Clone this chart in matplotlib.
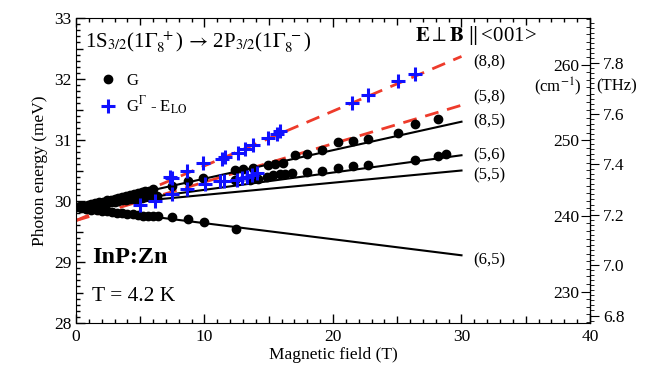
import numpy as np
import matplotlib
matplotlib.use('Agg')
import matplotlib.pyplot as plt
from matplotlib.ticker import MultipleLocator

plt.rcParams['font.family'] = ['Liberation Serif', 'DejaVu Serif']
plt.rcParams['mathtext.fontset'] = 'stix'

# ---------------- data ----------------
# G : black circles
g_x = [0.0, 0.3, 0.6, 0.9, 1.2, 1.5, 1.8, 2.1, 2.4, 2.7, 3.0, 3.3, 3.6, 3.9, 4.2, 4.5, 4.8, 5.1, 5.4, 5.7, 6.0,
       0.3, 0.6, 0.9, 1.2, 1.5, 1.8, 2.1, 2.4, 2.7, 3.0, 3.3, 3.6, 3.9, 4.2, 4.5, 4.8, 5.1, 5.4, 5.7, 6.0, 6.3,
       0.4, 0.8, 1.2, 1.6, 2.0, 2.4, 2.8, 3.2, 3.6, 4.0, 4.4, 4.8, 5.2, 5.6, 6.0, 6.4,
       7.5, 8.7, 10.0, 12.45,
       7.45, 8.74, 9.91, 12.37, 13.0, 13.8, 14.96, 15.5, 16.13, 17.04, 17.95, 19.12, 20.41, 21.58, 22.75,
       25.08, 26.38, 28.19,
       12.37, 13.54, 14.2, 14.84, 15.3, 15.87, 16.26, 16.8, 17.95, 19.12, 20.41, 21.58, 22.75, 26.38,
       28.19, 28.76]
g_y = [29.90, 29.91, 29.92, 29.94, 29.95, 29.96, 29.98, 29.99, 30.01, 30.02, 30.04, 30.05, 30.07, 30.08, 30.10,
       30.11, 30.13, 30.14, 30.16, 30.17, 30.19,
       29.90, 29.91, 29.92, 29.93, 29.94, 29.95, 29.96, 29.97, 29.98, 29.99, 30.00, 30.01, 30.02, 30.03,
       30.03, 30.04, 30.05, 30.06, 30.07, 30.08, 30.09,
       29.88, 29.87, 29.86, 29.85, 29.84, 29.83, 29.82, 29.81, 29.80, 29.79, 29.78, 29.77, 29.76, 29.76,
       29.75, 29.75,
       29.74, 29.70, 29.66, 29.54,
       30.24, 30.33, 30.37, 30.51, 30.52, 30.54, 30.59, 30.60, 30.62, 30.75, 30.77, 30.84, 30.96, 30.99,
       31.02, 31.11, 31.26, 31.34,
       30.34, 30.34, 30.36, 30.40, 30.42, 30.45, 30.45, 30.46, 30.48, 30.50, 30.54, 30.57, 30.59, 30.68,
       30.74, 30.77]

# G^Gamma - E_LO : blue crosses
b_x = [7.3, 7.45, 8.61, 9.91, 11.34, 11.6, 12.63, 13.15, 13.75, 14.96, 15.62, 15.9,
       21.45, 22.75, 25.08, 26.38,
       4.98, 6.15, 7.45, 8.61, 10.04, 11.21, 11.5, 12.51, 12.9, 13.28, 13.67, 14.06]
b_y = [30.40, 30.37, 30.50, 30.62, 30.69, 30.72, 30.79, 30.85, 30.92, 31.03, 31.10, 31.14,
       31.61, 31.74, 31.96, 32.08,
       29.94, 30.00, 30.12, 30.20, 30.28, 30.32, 30.33, 30.34, 30.37, 30.40, 30.43, 30.46]

# calculated transitions: energy at 0 T and 30 T
fit_names = ['(8,8)', '(5,8)', '(8,5)', '(5,6)', '(5,5)', '(6,5)']
fit_b = [0.0, 30.0]
fit_e0 = [29.68, 29.68, 29.90, 29.90, 29.90, 29.90]
fit_e30 = [32.37, 31.57, 31.30, 30.75, 30.50, 29.11]
fit_dashed = [True, True, False, False, False, False]
label_y = [32.28, 31.70, 31.31, 30.75, 30.42, 29.03]

MEV_TO_CM = 8.06554
MEV_TO_THZ = 0.241799

# ---------------- figure ----------------
fig = plt.figure(figsize=(6.69, 3.72), dpi=100)
ax = fig.add_axes([0.1136, 0.1317, 0.7683, 0.8199])

for name, e0, e30, dashed in zip(fit_names, fit_e0, fit_e30, fit_dashed):
    if dashed:
        ax.plot(fit_b, [e0, e30], color='#ee3b2b', lw=2.0, dashes=(5, 3.2), zorder=2)
    else:
        ax.plot(fit_b, [e0, e30], color='black', lw=1.5, zorder=2)

ax.plot(g_x, g_y, 'o', color='black', ms=6, ls='none', label='G', zorder=3)
ax.plot(b_x, b_y, '+', color='#1010ff', ms=10, mew=2.2, ls='none',
        label=r'G$^{\Gamma}$ - E$_{\rm LO}$', zorder=4)

for name, ly in zip(fit_names, label_y):
    ax.text(30.9, ly, name, fontsize=12, va='center', ha='left')

ax.set_xlim(0, 40)
ax.set_ylim(28, 33)
ax.set_xlabel('Magnetic field (T)', fontsize=12.5, labelpad=2)
ax.set_ylabel('Photon energy (meV)', fontsize=12.5, labelpad=4)

ax.xaxis.set_major_locator(MultipleLocator(10))
ax.xaxis.set_minor_locator(MultipleLocator(1))
ax.yaxis.set_major_locator(MultipleLocator(1))
ax.yaxis.set_minor_locator(MultipleLocator(0.1))
ax.tick_params(which='both', direction='in', top=True, right=False, labelsize=12.5)
ax.tick_params(which='major', length=6.5, width=1)
ax.tick_params(which='minor', length=3, width=1)
ax.tick_params(axis='x', pad=4)

# right side: cm^-1 (inside) and THz (outside)
sec_cm = ax.secondary_yaxis('right', functions=(lambda e: e * MEV_TO_CM, lambda c: c / MEV_TO_CM))
sec_cm.set_yticks([230, 240, 250, 260])
sec_cm.yaxis.set_minor_locator(MultipleLocator(1))
sec_cm.tick_params(which='both', direction='in', labelsize=12.5, pad=-8)
sec_cm.tick_params(which='major', length=6.5)
sec_cm.tick_params(which='minor', length=3)

sec_thz = ax.secondary_yaxis('right', functions=(lambda e: e * MEV_TO_THZ, lambda t: t / MEV_TO_THZ))
sec_thz.set_yticks([6.8, 7.0, 7.2, 7.4, 7.6, 7.8])
sec_thz.set_yticklabels(['6.8', '7.0', '7.2', '7.4', '7.6', '7.8'])
sec_thz.yaxis.set_minor_locator(MultipleLocator(0.02))
sec_thz.tick_params(which='both', direction='out', labelsize=12.5, pad=3)
sec_thz.tick_params(which='major', length=6.5)
sec_thz.tick_params(which='minor', length=3)

ax.text(0.937, 0.775, r'(cm$^{-1}$)', transform=ax.transAxes, fontsize=12, ha='center', va='center')
ax.text(1.013, 0.775, '(THz)', transform=ax.transAxes, fontsize=12, ha='left', va='center')

# annotations
ax.text(0.7, 32.6, r'1S$_{3/2}$(1$\Gamma_8^{\ +}$)$\,\rightarrow\,$2P$_{3/2}$(1$\Gamma_8^{\ -}$)',
        fontsize=15, va='center', ha='left')
ax.text(31.1, 32.72, r'$\mathbf{E}\perp\mathbf{B}\;\|\,$<001>', fontsize=15, va='center', ha='center')
ax.text(1.25, 29.07, 'InP:Zn', fontsize=17.5, fontweight='bold', va='center', ha='left')
ax.text(1.25, 28.43, 'T = 4.2 K', fontsize=15.5, va='center', ha='left')

ax.legend(loc='upper left', bbox_to_anchor=(0.043, 0.82), frameon=False, fontsize=12,
          handlelength=1.2, handletextpad=0.5, borderpad=0, borderaxespad=0, labelspacing=0.35)

# cm^-1 labels sit inside the frame
fig.canvas.draw()
for lbl in sec_cm.get_yticklabels():
    lbl.set_ha('right')

# medium ticks at every 5 T and every 0.5 meV
for tick in ax.xaxis.get_minor_ticks():
    if abs(tick.get_loc() / 5 - round(tick.get_loc() / 5)) < 1e-6:
        tick.tick1line.set_markersize(5)
        tick.tick2line.set_markersize(5)
for tick in ax.yaxis.get_minor_ticks():
    if abs(tick.get_loc() / 0.5 - round(tick.get_loc() / 0.5)) < 1e-6:
        tick.tick1line.set_markersize(5)
        tick.tick2line.set_markersize(5)

fig.savefig('out.png', dpi=100)
